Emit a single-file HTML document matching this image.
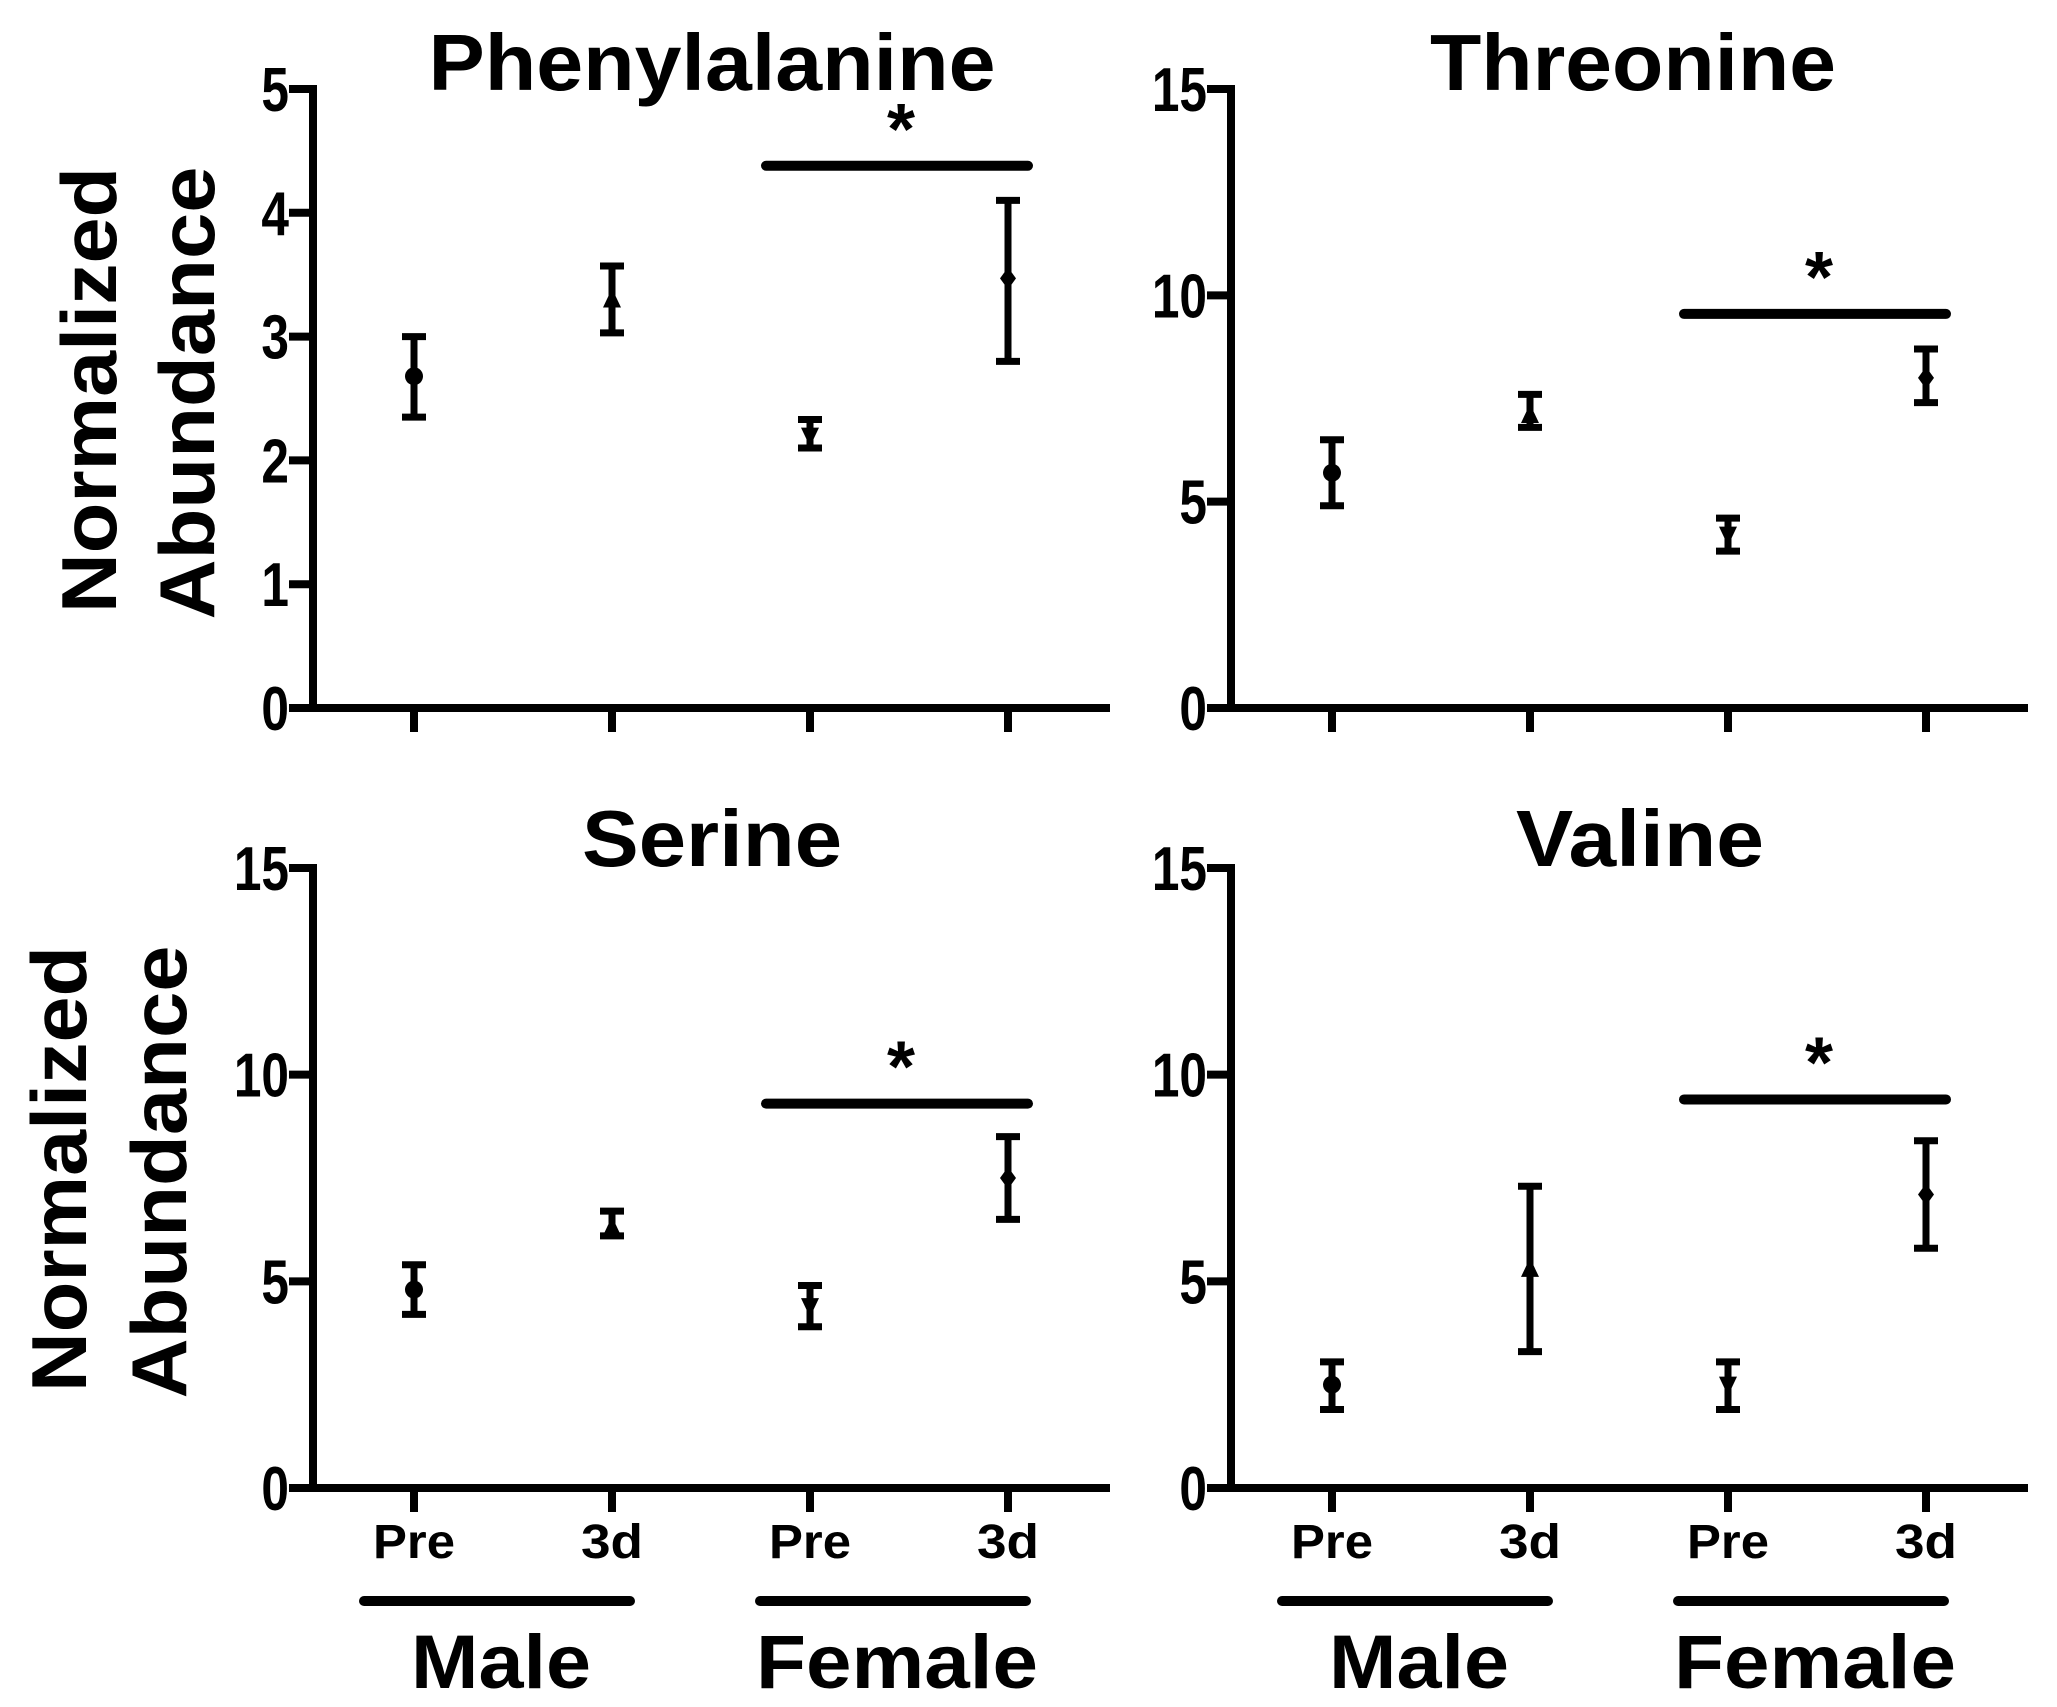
<!DOCTYPE html>
<html><head><meta charset="utf-8"><style>
html,body{margin:0;padding:0;background:#fff;}
svg{display:block;}
text{font-family:"Liberation Sans",Arial,sans-serif;font-weight:bold;fill:#000;}
</style></head><body>
<svg id="fig" width="2057" height="1707" viewBox="0 0 2057 1707" xmlns="http://www.w3.org/2000/svg">
<text transform="translate(116,390) rotate(-90)" text-anchor="middle" font-size="78" textLength="446" lengthAdjust="spacingAndGlyphs">Normalized</text>
<text transform="translate(214,393) rotate(-90)" text-anchor="middle" font-size="78" textLength="453" lengthAdjust="spacingAndGlyphs">Abundance</text>
<text transform="translate(86,1169) rotate(-90)" text-anchor="middle" font-size="78" textLength="446" lengthAdjust="spacingAndGlyphs">Normalized</text>
<text transform="translate(186,1172) rotate(-90)" text-anchor="middle" font-size="78" textLength="453" lengthAdjust="spacingAndGlyphs">Abundance</text>
</svg>
<script>
const categories = ["Pre","3d","Pre","3d"];
const groups = ["Male","Female"];
const titles = ["Phenylalanine","Threonine","Serine","Valine"];
const yMaxes = [5,15,15,15];
const yTicksPhe = [0,1,2,3,4,5];
const yTicks15 = [0,5,10,15];
const pheMean = [2.68,3.30,2.20,3.47];
const pheLow = [2.35,3.03,2.10,2.80];
const pheHigh = [3.00,3.57,2.33,4.10];
const thrMean = [5.7,7.1,4.2,8.0];
const thrLow = [4.9,6.8,3.8,7.4];
const thrHigh = [6.5,7.6,4.6,8.7];
const serMean = [4.8,6.3,4.4,7.5];
const serLow = [4.2,6.1,3.9,6.5];
const serHigh = [5.4,6.7,4.9,8.5];
const valMean = [2.5,5.3,2.5,7.1];
const valLow = [1.9,3.3,1.9,5.8];
const valHigh = [3.05,7.3,3.05,8.4];
const sigLevel = [4.38,9.55,9.3,9.4];

const NS="http://www.w3.org/2000/svg";
const svg=document.getElementById('fig');
function mk(tag,attrs){const e=document.createElementNS(NS,tag);for(const k in attrs)e.setAttribute(k,attrs[k]);return e;}
const panels=[
 {ox:313,top:89,zero:708,ticks:yTicksPhe,mean:pheMean,lo:pheLow,hi:pheHigh,tx:712,ty:90,tw:567,key:'phenylalanine'},
 {ox:1231,top:89,zero:708,ticks:yTicks15,mean:thrMean,lo:thrLow,hi:thrHigh,tx:1633,ty:90,tw:406,key:'threonine'},
 {ox:313,top:868,zero:1488,ticks:yTicks15,mean:serMean,lo:serLow,hi:serHigh,tx:712,ty:866,tw:260,key:'serine'},
 {ox:1231,top:868,zero:1488,ticks:yTicks15,mean:valMean,lo:valLow,hi:valHigh,tx:1640,ty:866,tw:248,key:'valine'}
];
panels.forEach((p,i)=>{
 const ymax=yMaxes[i];
 const Y=v=>p.zero-(p.zero-p.top)*v/ymax;
 const X=j=>p.ox+101+j*198;
 const g=mk('g',{});
 
 
 svg.appendChild(g);
 const t=mk('text',{x:p.tx,y:p.ty,'text-anchor':'middle','font-size':80,textLength:p.tw,lengthAdjust:'spacingAndGlyphs'});
 t.textContent=titles[i];
 
 
 g.appendChild(t);
 const ya=mk('line',{x1:p.ox,y1:p.top-4,x2:p.ox,y2:p.zero+4,stroke:'#000','stroke-width':8});
 
 
 g.appendChild(ya);
 const xa=mk('line',{x1:p.ox-24,y1:p.zero,x2:p.ox+797,y2:p.zero,stroke:'#000','stroke-width':8});
 
 
 g.appendChild(xa);
 p.ticks.forEach(v=>{
  const tl=mk('line',{x1:p.ox-24,y1:Y(v),x2:p.ox,y2:Y(v),stroke:'#000','stroke-width':8});
  
  
  g.appendChild(tl);
  const tt=mk('text',{x:0,y:0,'text-anchor':'end','font-size':62,transform:`translate(${p.ox-24},${Y(v)+22}) scale(0.8,1)`});
  tt.textContent=String(v);
  
  
  g.appendChild(tt);
 });
 categories.forEach((c,j)=>{
  const x=X(j);
  const tk=mk('line',{x1:x,y1:p.zero,x2:x,y2:p.zero+24,stroke:'#000','stroke-width':8});
  
  
  g.appendChild(tk);
  if(i>=2){
   const ct=mk('text',{x:x,y:p.zero+70,'text-anchor':'middle','font-size':48,textLength:c==='Pre'?82:62,lengthAdjust:'spacingAndGlyphs'});
   ct.textContent=c;
   
   
   g.appendChild(ct);
  }
  const eb=mk('path',{d:`M${x},${Y(p.lo[j])}V${Y(p.hi[j])}M${x-12},${Y(p.lo[j])}H${x+12}M${x-12},${Y(p.hi[j])}H${x+12}`,stroke:'#000','stroke-width':7,fill:'none'});
  
  
  g.appendChild(eb);
  const my=Y(p.mean[j]);let m;
  if(j===0)m=mk('circle',{cx:x,cy:my,r:9,fill:'#000'});
  else if(j===1)m=mk('path',{d:`M${x},${my-11}L${x+9},${my+8}L${x-9},${my+8}Z`,fill:'#000'});
  else if(j===2)m=mk('path',{d:`M${x},${my+11}L${x+9},${my-8}L${x-9},${my-8}Z`,fill:'#000'});
  else m=mk('path',{d:`M${x},${my-11}L${x+8},${my}L${x},${my+11}L${x-8},${my}Z`,fill:'#000'});
  
  
  g.appendChild(m);
 });
 const sy=Y(sigLevel[i]);
 const sb=mk('line',{x1:X(2)-44,y1:sy,x2:X(3)+20,y2:sy,stroke:'#000','stroke-width':10,'stroke-linecap':'round'});
 
 
 g.appendChild(sb);
 const st=mk('text',{x:(X(2)+X(3))/2-8,y:sy-12,'text-anchor':'middle','font-size':72});
 st.textContent='*';
 
 
 g.appendChild(st);
 if(i>=2){
  groups.forEach((gn,k)=>{
   const x1=X(2*k)-50,x2=X(2*k+1)+18;
   const gb=mk('line',{x1:x1,y1:1601,x2:x2,y2:1601,stroke:'#000','stroke-width':10,'stroke-linecap':'round'});
   
   
   g.appendChild(gb);
   const gt=mk('text',{x:(x1+x2)/2+4,y:1688,'text-anchor':'middle','font-size':76,textLength:k===0?180:282,lengthAdjust:'spacingAndGlyphs'});
   gt.textContent=gn;
   
   
   g.appendChild(gt);
  });
 }
});
</script>
</body></html>
